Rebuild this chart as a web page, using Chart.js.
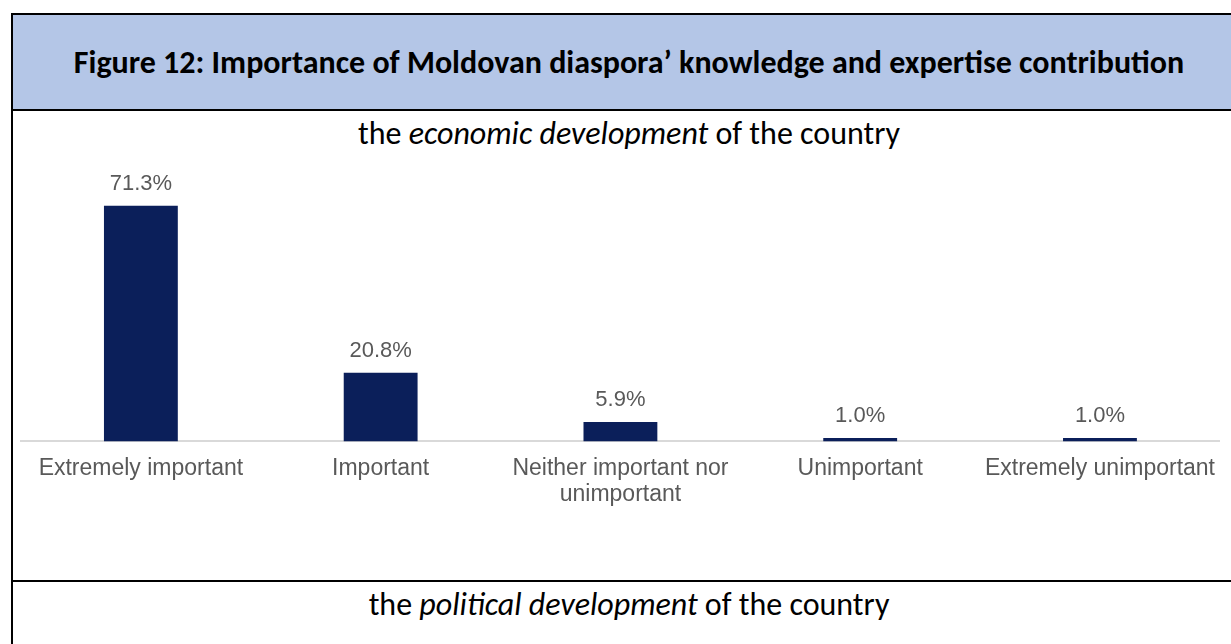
<!DOCTYPE html>
<html>
<head>
<meta charset="utf-8">
<script src="https://cdn.jsdelivr.net/npm/chart.js@4.4.1/dist/chart.umd.min.js"></script>
<style>
  html, body { margin: 0; padding: 0; width: 1231px; height: 644px; overflow: hidden; background: #fff; }
  .frame { position: absolute; left: 11px; top: 13px; width: 1260px; height: 700px;
           border-left: 2px solid #000; border-top: 2px solid #000; box-sizing: border-box; }
  .head { position: absolute; left: 13px; top: 15px; width: 1260px; height: 94px; background: #b4c6e7; }
  .rule { position: absolute; left: 11px; width: 1260px; height: 2px; background: #000; }
  .txt { position: absolute; left: 12px; width: 1234px; text-align: center; white-space: nowrap; color: #000;
         font-family: Carlito, Calibri, Lato, "Open Sans", sans-serif; }
  .title { top: 43px; font-size: 32px; line-height: 40px; font-weight: bold; }
  .sub { font-size: 32px; line-height: 40px; }
  #chart { position: absolute; left: 12px; top: 150px; }
</style>
</head>
<body>
<div class="head"></div>
<div class="frame"></div>
<div class="rule" style="top:109px"></div>
<div class="rule" style="top:580px"></div>
<div class="txt title">Figure 12: Importance of Moldovan diaspora’ knowledge and expertise contribution</div>
<div class="txt sub" style="top:114px">the <i>economic development</i> of the country</div>
<div class="txt sub" style="top:585px">the <i>political development</i> of the country</div>
<canvas id="chart" width="1219" height="372"></canvas>
<script>
// Survey answers and the share of respondents choosing each one (%)
const categories = [
  "Extremely important",
  "Important",
  ["Neither important nor", "unimportant"],
  "Unimportant",
  "Extremely unimportant"
];
const shares = [71.3, 20.8, 5.9, 1.0, 1.0];
const valueLabels = shares.map(v => v.toFixed(1) + "%");

const labelFont = '"Liberation Sans", Arial, sans-serif';

// Writes the percentage above each bar
const barValues = {
  id: "barValues",
  afterDatasetsDraw(chart) {
    const ctx = chart.ctx;
    const meta = chart.getDatasetMeta(0);
    ctx.save();
    ctx.font = "22px " + labelFont;
    ctx.fillStyle = "#595959";
    ctx.textAlign = "center";
    ctx.textBaseline = "alphabetic";
    meta.data.forEach((bar, i) => {
      ctx.fillText(valueLabels[i], bar.x, bar.y - 16);
    });
    ctx.restore();
  }
};

new Chart(document.getElementById("chart"), {
  type: "bar",
  data: {
    labels: categories,
    datasets: [{
      data: shares,
      backgroundColor: "#0b1f5a",
      borderWidth: 0,
      categoryPercentage: 1,
      barPercentage: 0.308
    }]
  },
  options: {
    responsive: false,
    animation: false,
    devicePixelRatio: 1,
    layout: { padding: { left: 9, right: 10, top: 27, bottom: 0 } },
    plugins: { legend: { display: false }, tooltip: { enabled: false } },
    scales: {
      x: {
        grid: { display: false, drawTicks: false, tickLength: 0 },
        border: { display: true, color: "#d9d9d9", width: 2 },
        ticks: {
          color: "#595959",
          padding: 15,
          maxRotation: 0,
          autoSkip: false,
          font: { family: labelFont, size: 23, lineHeight: 1.1 }
        }
      },
      y: { display: false, min: 0, max: 80 }
    }
  },
  plugins: [barValues]
});
</script>
</body>
</html>
